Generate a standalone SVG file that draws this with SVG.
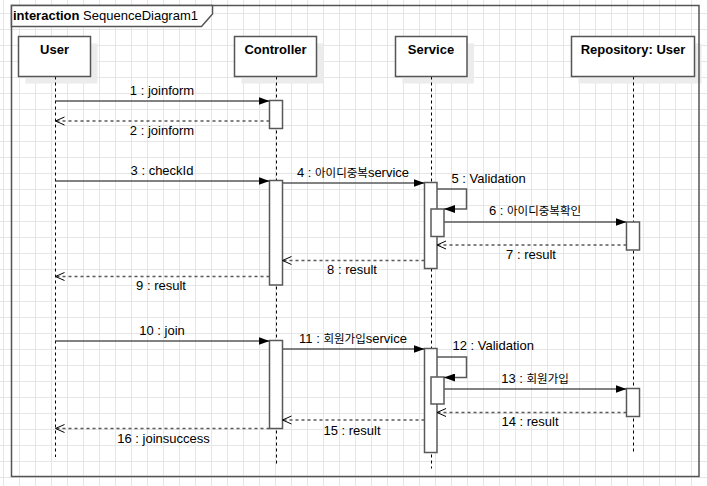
<svg xmlns="http://www.w3.org/2000/svg" width="707" height="486" viewBox="0 0 707 486">
  <defs>
    <pattern id="grid" x="3" y="13" width="16" height="16" patternUnits="userSpaceOnUse">
      <path d="M0 0.5 H16 M0.5 0 V16" fill="none" stroke="#e6e6e6" stroke-width="1"/>
    </pattern>
    <marker id="solidHead" viewBox="0 0 11 8" refX="11" refY="4" markerWidth="11" markerHeight="8" markerUnits="userSpaceOnUse" orient="auto">
      <path d="M0 0 L11 4 L0 8 Z" fill="#000"/>
    </marker>
    <marker id="openHead" viewBox="-1 -1 11 10" refX="9" refY="4" markerWidth="11" markerHeight="10" markerUnits="userSpaceOnUse" orient="auto">
      <path d="M0 0 L9 4 L0 8" fill="none" stroke="#000" stroke-width="1"/>
    </marker>
  </defs>
  <style>
    .shadow { fill: #ececec; stroke: none; }
    .box { fill: #fff; stroke: #555; stroke-width: 1.5; }
    .act { fill: #fff; stroke: #595959; stroke-width: 1.5; }
    .life { stroke: #000; stroke-width: 1; stroke-dasharray: 3 3; fill: none; }
    .frame { fill: none; stroke: #555; stroke-width: 1.5; }
    .title { font-family: "Liberation Sans", Arial, sans-serif; font-size: 13px; fill: #000; }
    .name { font-family: "Liberation Sans", Arial, sans-serif; font-size: 13px; font-weight: bold; fill: #000; text-anchor: middle; }
    .lbl { font-family: "Liberation Sans", Arial, "Noto Sans CJK KR", sans-serif; font-size: 13px; fill: #000; text-anchor: middle; }
    .lbl.start { text-anchor: start; }
    .ko { font-family: "Noto Sans CJK KR", sans-serif; font-size: 11.5px; }
    .call { fill: none; stroke: #595959; stroke-width: 1.5; marker-end: url(#solidHead); }
    .ret { fill: none; stroke: #595959; stroke-width: 1.5; stroke-dasharray: 3 3; marker-end: url(#openHead); }
  </style>

  <!-- canvas and grid -->
  <rect width="707" height="486" fill="#fff"/>
  <rect width="707" height="486" fill="url(#grid)"/>

  <!-- lifelines -->
  <g id="user">
    <rect class="shadow" x="25.5" y="43.5" width="72" height="40"/>
    <line class="life" x1="55.5" y1="76.5" x2="55.5" y2="457"/>
    <rect class="box" x="18.5" y="36.5" width="72" height="40"/>
    <text class="name" x="54.5" y="54">User</text>
  </g>

  <g id="controller">
    <rect class="shadow" x="241.5" y="43.5" width="82" height="40"/>
    <line class="life" x1="276.5" y1="76.5" x2="276.5" y2="463.5"/>
    <rect class="box" x="234.5" y="36.5" width="82" height="40"/>
    <text class="name" x="275.5" y="54">Controller</text>
    <rect class="act" x="269.5" y="100.5" width="13" height="28"/>
    <rect class="act" x="269.5" y="180.5" width="13" height="104.5"/>
    <rect class="act" x="269.5" y="340.5" width="13" height="88"/>
  </g>

  <g id="service">
    <rect class="shadow" x="402.5" y="43.5" width="71.5" height="40"/>
    <line class="life" x1="431.5" y1="76.5" x2="431.5" y2="468.5"/>
    <rect class="box" x="395.5" y="36.5" width="71.5" height="40"/>
    <text class="name" x="431" y="54">Service</text>
    <rect class="act" x="424.5" y="182.5" width="12.5" height="86"/>
    <rect class="act" x="431" y="209" width="13" height="27.5"/>
    <rect class="act" x="424.5" y="348.5" width="12.5" height="104"/>
    <rect class="act" x="431" y="377" width="13" height="27"/>
  </g>

  <g id="repository">
    <rect class="shadow" x="578.5" y="43.5" width="123" height="40"/>
    <line class="life" x1="633.5" y1="76.5" x2="633.5" y2="452"/>
    <rect class="box" x="571.5" y="36.5" width="123" height="40"/>
    <text class="name" x="633" y="54">Repository: User</text>
    <rect class="act" x="626.5" y="222" width="13" height="28"/>
    <rect class="act" x="626.5" y="388.5" width="13" height="28"/>
  </g>

  <!-- interaction frame -->
  <g id="frame">
    <rect class="frame" x="11.5" y="5.5" width="687.5" height="471"/>
    <path d="M11.5 5.5 H212.5 V14 L201.5 26.5 H11.5 Z" fill="#fff" stroke="#555" stroke-width="1.5"/>
    <text class="title" x="13" y="19.5"><tspan font-weight="bold">interaction</tspan> SequenceDiagram1</text>
  </g>

  <!-- messages -->
  <g id="connectors">
    <line class="call" x1="55.5" y1="101" x2="269.5" y2="101"/>
    <line class="ret" x1="269.5" y1="121" x2="55.5" y2="121"/>

    <line class="call" x1="55.5" y1="181" x2="269.5" y2="181"/>
    <line class="call" x1="282.5" y1="183" x2="424.5" y2="183"/>
    <path class="call" d="M437 189 H466.5 V209 H444"/>
    <line class="call" x1="444" y1="222" x2="626.5" y2="222"/>
    <line class="ret" x1="626.5" y1="245" x2="437" y2="245"/>
    <line class="ret" x1="424.5" y1="260.5" x2="282.5" y2="260.5"/>
    <line class="ret" x1="269.5" y1="276.5" x2="55.5" y2="276.5"/>

    <line class="call" x1="55.5" y1="341" x2="269.5" y2="341"/>
    <line class="call" x1="282.5" y1="349" x2="424.5" y2="349"/>
    <path class="call" d="M437 357 H466.5 V377.5 H444"/>
    <line class="call" x1="444" y1="389" x2="626.5" y2="389"/>
    <line class="ret" x1="626.5" y1="412.5" x2="437" y2="412.5"/>
    <line class="ret" x1="424.5" y1="420" x2="282.5" y2="420"/>
    <line class="ret" x1="269.5" y1="428.5" x2="55.5" y2="428.5"/>

    <text class="lbl" x="162" y="95">1 : joinform</text>
    <text class="lbl" x="162" y="134.5">2 : joinform</text>
    <text class="lbl" x="162" y="175">3 : checkId</text>
    <text class="lbl" x="353" y="176.5">4 : <tspan class="ko">아이디중복</tspan>service</text>
    <text class="lbl start" x="451.5" y="183">5 : Validation</text>
    <text class="lbl" x="535" y="215">6 : <tspan class="ko">아이디중복확인</tspan></text>
    <text class="lbl" x="531" y="258.5">7 : result</text>
    <text class="lbl" x="352" y="274">8 : result</text>
    <text class="lbl" x="161" y="290">9 : result</text>
    <text class="lbl" x="162" y="335">10 : join</text>
    <text class="lbl" x="353" y="342.5">11 : <tspan class="ko">회원가입</tspan>service</text>
    <text class="lbl start" x="452.5" y="350">12 : Validation</text>
    <text class="lbl" x="535" y="382.5">13 : <tspan class="ko">회원가입</tspan></text>
    <text class="lbl" x="530" y="426">14 : result</text>
    <text class="lbl" x="352" y="434.5">15 : result</text>
    <text class="lbl" x="163.5" y="442.5">16 : joinsuccess</text>
  </g>
</svg>
